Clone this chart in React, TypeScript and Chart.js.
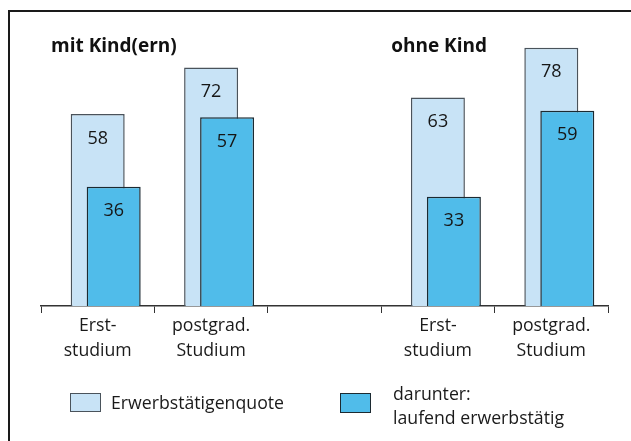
import React, { useEffect, useRef } from 'react';
import { Chart, registerables } from 'chart.js';

Chart.register(...registerables);

// ---- data ----
const categories: (string | string[])[] = [
  ['Erst-', 'studium'],
  ['postgrad.', 'Studium'],
  '',
  ['Erst-', 'studium'],
  ['postgrad.', 'Studium'],
];
const quoteValues: (number | null)[] = [58, 72, null, 63, 78];
const laufendValues: (number | null)[] = [36, 57, null, 33, 59];
const groupTitles = ['mit Kind(ern)', 'ohne Kind'];
const groupStartIndex = [0, 3];
const seriesQuote = 'Erwerbstätigenquote';
const seriesLaufend = ['darunter:', 'laufend erwerbstätig'];

// ---- styles ----
const FONT = '"Open Sans", "Noto Sans", sans-serif';
const TEXT_SIZE = 17.7;
const LIGHT_FILL = '#C8E3F6';
const LIGHT_BORDER = '#4A535B';
const DARK_FILL = '#50BCEA';
const DARK_BORDER = '#1C2A31';
const SHIFT = 16;

const shiftPlugin = {
  id: 'shiftFront',
  beforeDatasetDraw(chart: any, args: any) {
    if (args.index === 1) {
      chart.ctx.save();
      chart.ctx.translate(SHIFT, 0);
    }
  },
  afterDatasetDraw(chart: any, args: any) {
    if (args.index === 1) chart.ctx.restore();
  },
};

const labelPlugin = {
  id: 'valueLabels',
  afterDatasetsDraw(chart: any) {
    const ctx = chart.ctx;
    ctx.save();
    ctx.font = `18px ${FONT}`;
    ctx.fillStyle = '#161616';
    ctx.textAlign = 'center';
    ctx.textBaseline = 'middle';
    chart.data.datasets.forEach((ds: any, di: number) => {
      const meta = chart.getDatasetMeta(di);
      meta.data.forEach((bar: any, i: number) => {
        const v = ds.data[i];
        if (v === null || v === undefined) return;
        const dx = di === 1 ? SHIFT : 0;
        ctx.fillText(String(v), bar.x + dx, bar.y + 24.5);
      });
    });
    ctx.restore();
  },
};

const titlePlugin = {
  id: 'groupTitles',
  afterDraw(chart: any) {
    const ctx = chart.ctx;
    const xs = chart.scales.x;
    const half = xs.width / categories.length / 2;
    ctx.save();
    ctx.font = `bold 19px ${FONT}`;
    ctx.fillStyle = '#111';
    ctx.textAlign = 'left';
    ctx.textBaseline = 'alphabetic';
    groupTitles.forEach((t, g) => {
      const x = xs.getPixelForValue(groupStartIndex[g]) - half + 10;
      ctx.fillText(t, x, chart.chartArea.top + 44);
    });
    ctx.restore();
  },
};

export default function App() {
  const ref = useRef<HTMLCanvasElement>(null);

  useEffect(() => {
    if (!ref.current) return;
    const chart = new Chart(ref.current, {
      type: 'bar',
      data: {
        labels: categories as any,
        datasets: [
          {
            label: seriesQuote,
            data: quoteValues,
            backgroundColor: LIGHT_FILL,
            borderColor: LIGHT_BORDER,
            borderWidth: 1.5,
            order: 2,
          },
          {
            label: seriesLaufend.join(' '),
            data: laufendValues,
            backgroundColor: DARK_FILL,
            borderColor: DARK_BORDER,
            borderWidth: 1.5,
            order: 1,
          },
        ],
      },
      options: {
        responsive: false,
        animation: false,
        events: [],
        layout: { padding: { top: 8, left: 41, right: 23, bottom: 0 } },
        datasets: {
          bar: { grouped: false, barPercentage: 0.476, categoryPercentage: 1 },
        } as any,
        plugins: {
          legend: { display: false },
          tooltip: { enabled: false },
        },
        scales: {
          x: {
            grid: {
              offset: true,
              drawOnChartArea: false,
              drawTicks: true,
              tickLength: 7,
              color: '#333',
              lineWidth: 1,
            },
            border: { display: true, color: '#333', width: 1.5 },
            ticks: {
              color: '#1a1a1a',
              font: { family: FONT, size: TEXT_SIZE, lineHeight: 25 / TEXT_SIZE },
              padding: 0,
              maxRotation: 0,
              autoSkip: false,
            },
            afterFit: (s: any) => {
              s.height = 135;
            },
          },
          y: { display: false, min: 0, max: 90 },
        },
      },
      plugins: [shiftPlugin, labelPlugin, titlePlugin],
    });
    return () => chart.destroy();
  }, []);

  const textStyle: React.CSSProperties = {
    position: 'fixed',
    fontFamily: FONT,
    fontSize: TEXT_SIZE,
    lineHeight: '24px',
    color: '#1a1a1a',
    whiteSpace: 'nowrap',
  };

  return (
    <div>
      <div
        style={{
          position: 'fixed',
          left: 8,
          top: 10,
          width: 623,
          height: 431,
          borderLeft: '2px solid #1a1a1a',
          borderTop: '2px solid #1a1a1a',
          boxSizing: 'border-box',
        }}
      />
      <canvas
        ref={ref}
        width={631}
        height={441}
        style={{ position: 'fixed', left: 0, top: 0, width: 631, height: 441 }}
      />
      <div
        style={{
          position: 'fixed',
          left: 70,
          top: 393,
          width: 31,
          height: 19,
          background: LIGHT_FILL,
          border: `1.5px solid ${LIGHT_BORDER}`,
          boxSizing: 'border-box',
        }}
      />
      <div style={{ ...textStyle, left: 111, top: 389.5 }}>{seriesQuote}</div>
      <div
        style={{
          position: 'fixed',
          left: 340,
          top: 393,
          width: 31,
          height: 20,
          background: DARK_FILL,
          border: `1.5px solid ${DARK_BORDER}`,
          boxSizing: 'border-box',
        }}
      />
      <div style={{ ...textStyle, left: 393, top: 381 }}>
        {seriesLaufend[0]}
        <br />
        {seriesLaufend[1]}
      </div>
    </div>
  );
}
